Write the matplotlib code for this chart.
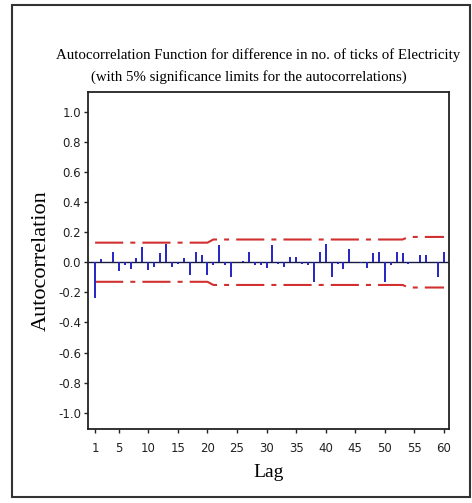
import numpy as np
import matplotlib
matplotlib.use('Agg')
import matplotlib.pyplot as plt
from matplotlib.patches import Rectangle

# Valores (lags 1..60)
lags = np.arange(1, 61)
acf = [-0.24, 0.02, 0.0, 0.07, -0.055, -0.02, -0.045, 0.03, 0.10, -0.05,
       -0.03, 0.06, 0.12, -0.035, -0.01, 0.03, -0.085, 0.065, 0.045, -0.085,
       -0.02, 0.115, -0.02, -0.10, 0.0, 0.005, 0.065, -0.02, -0.02, -0.04,
       0.115, -0.015, -0.03, 0.035, 0.035, -0.015, -0.02, -0.13, 0.065, 0.12,
       -0.095, -0.01, -0.045, 0.09, 0.0, -0.005, -0.04, 0.06, 0.07, -0.13,
       -0.02, 0.07, 0.06, -0.015, 0.0, 0.05, 0.05, 0.0, -0.10, 0.07]
limite = [0.13] * 20 + [0.151] * 33 + [0.168] * 7
xticks = [1, 5, 10, 15, 20, 25, 30, 35, 40, 45, 50, 55, 60]
yticks = [1.0, 0.8, 0.6, 0.4, 0.2, 0.0, -0.2, -0.4, -0.6, -0.8, -1.0]

W, H = 472, 503
fig = plt.figure(figsize=(W / 100, H / 100), dpi=100)

# moldura externa
fig.patches.append(Rectangle((12 / W, 1 - 497 / H), (470 - 12) / W, (497 - 5) / H,
                             transform=fig.transFigure, fill=False,
                             edgecolor='#333333', linewidth=1.5))

ax = fig.add_axes([88 / W, 1 - 429 / H, (449 - 88) / W, (429 - 92) / H])

ax.axhline(0, color='#1a1a40', linewidth=1.0, zorder=2)
ax.vlines(lags, 0, acf, color='#2424c4', linewidth=1.4, zorder=3)

dash = (0, (13.5, 3.4, 2.4, 3.4))
lim = np.array(limite)
ax.plot(lags, lim, color='#d03030', linewidth=1.5, linestyle=dash, zorder=1)
ax.plot(lags, -lim, color='#d03030', linewidth=1.5, linestyle=dash, zorder=1)

ax.set_xlim(-0.2, 60.85)
ax.set_ylim(-1.108, 1.131)
ax.set_xticks(xticks)
ax.set_yticks(yticks)
ax.set_yticklabels([f'{v:.1f}' for v in yticks])

tick_font = ['Liberation Sans Narrow', 'DejaVu Sans']
for lab in ax.get_xticklabels() + ax.get_yticklabels():
    lab.set_family(tick_font)
    lab.set_fontsize(8.5)
ax.tick_params(direction='out', length=3, width=1, colors='#222222')
ax.tick_params(axis='x', pad=6)
ax.tick_params(axis='y', pad=2)

for s in ax.spines.values():
    s.set_linewidth(1.3)
    s.set_color('#222222')

serif = ['Liberation Serif', 'DejaVu Serif']
ax.set_xlabel('Lag', family=serif, fontsize=14, labelpad=7)
ax.set_ylabel('Autocorrelation', family=serif, fontsize=16, labelpad=5)

fig.text(0.5 * (57 + 460) / W, 1 - 55 / H,
         'Autocorrelation Function for difference in no. of ticks of Electricity',
         ha='center', va='center', family=serif, fontsize=10.7)
fig.text(0.5 * (88 + 410) / W, 1 - 77 / H,
         '(with 5% significance limits for the autocorrelations)',
         ha='center', va='center', family=serif, fontsize=10.7)

fig.savefig('out.png', dpi=100)
